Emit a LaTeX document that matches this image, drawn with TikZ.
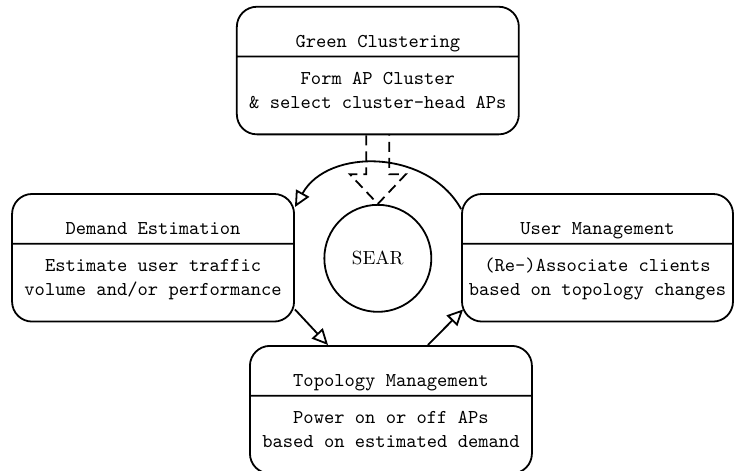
\documentclass[tikz,border=0pt]{standalone}
\usepackage{fontspec}
\usetikzlibrary{positioning, shapes, arrows.meta}

% title part, then the two lines of the lower part
\newcommand{\stage}[3]{\rule[-4pt]{0pt}{24pt}#1\nodepart{two}\rule{0pt}{13.5pt}#2\\#3\rule[-12.5pt]{0pt}{12.5pt}}

\begin{document}
\begin{tikzpicture}[line width=0.9pt,
      stage/.style={rectangle split, rectangle split parts=2, draw,
        rounded corners=10pt, minimum width=141pt, inner xsep=2pt,
        inner ysep=0pt, align=center,
        font=\ttfamily\fontsize{9.8}{12}\selectfont},
      hub/.style={circle, draw, minimum size=53.5pt, inner sep=0pt,
        font=\fontsize{9.5}{11}\selectfont},
      flow/.style={-{Triangle[open, length=8pt, width=7.5pt]}},
      feed/.style={dash pattern=on 5pt off 3pt, line join=miter}]
  \useasboundingbox (0,0) rectangle (12.899,-8.277);
  % stages round the hub
  \node[stage] (gc) at (6.64,-1.24) {\stage{Green Clustering}{Form AP Cluster}{\& select cluster-head APs}};
  \node[stage] (de) at (2.69,-4.53) {\stage{Demand Estimation}{Estimate user traffic}{volume and/or performance}};
  \node[stage, minimum width=135.5pt] (um) at (10.50,-4.53) {\stage{User Management}{(Re-)Associate clients}{based on topology changes}};
  \node[stage] (tm) at (6.87,-7.20) {\stage{Topology Management}{Power on or off APs}{based on estimated demand}};
  \node[hub] (sear) at (6.64,-4.54) {SEAR};
  % cycle
  \draw[flow] ([yshift=-8pt]um.north west) to[out=119, in=61, looseness=1.05] ([yshift=-7pt]de.north east);
  \draw[flow] ([yshift=6.5pt]de.south east) -- ([xshift=39.5pt]tm.north west);
  \draw[flow] ([xshift=18.5pt]tm.north) -- ([xshift=1pt, yshift=6.5pt]um.south west);
  % clusters feed the hub
  \coordinate (base) at ([yshift=-19.5pt]gc.south);
  \draw[feed] ([xshift=-5.75pt]gc.south) -- ([xshift=-5.75pt]base) -- ([xshift=-14pt]base)
    -- (sear.north) -- ([xshift=14pt]base) -- ([xshift=5.75pt]base) -- ([xshift=5.75pt]gc.south);
\end{tikzpicture}
\end{document}
